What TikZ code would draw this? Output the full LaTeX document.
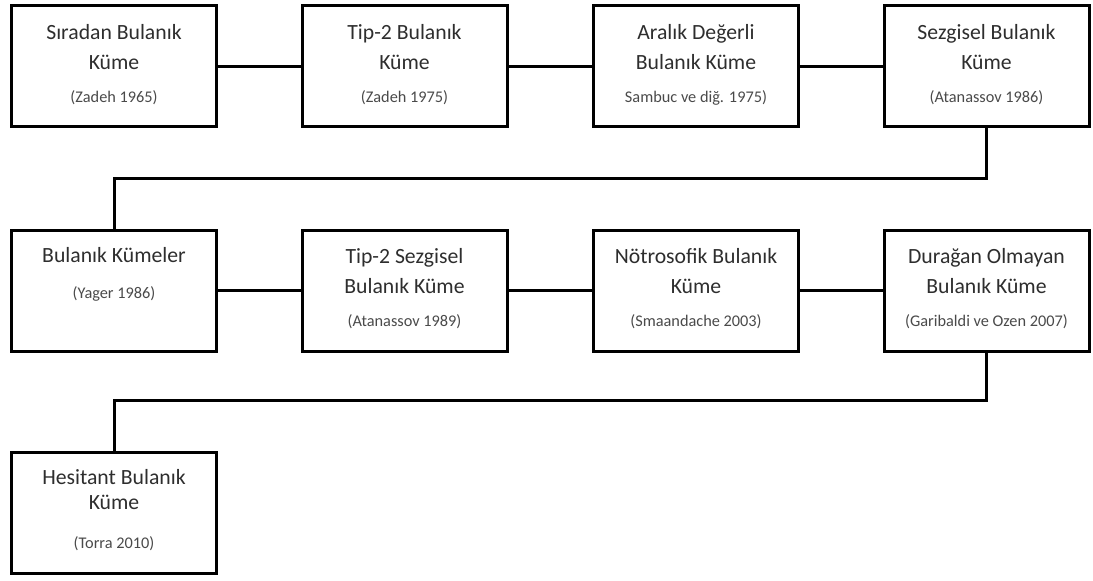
\documentclass[tikz,border=0pt]{standalone}
\usepackage{fontspec}
\setmainfont{Carlito}
\definecolor{titlec}{HTML}{2E2E2E}
\definecolor{citec}{HTML}{4A4A4A}
\tikzset{
  box/.style={draw=black, line width=3pt, minimum width=205pt, minimum height=121pt, inner sep=0pt, fill=white},
  ttl/.style={anchor=base, text=titlec, font=\fontsize{21.7}{21.7}\selectfont, inner sep=0pt},
  cite/.style={anchor=base, text=citec, font=\fontsize{16.3}{16.3}\selectfont, inner sep=0pt},
  conn/.style={draw=black, line width=3pt},
}
\begin{document}
\begin{tikzpicture}[x=1pt,y=-1pt]
\useasboundingbox (0,0) rectangle (1093,581);
% row 1
\node[box] (b1) at (114,66) {};
\node[box] (b2) at (404.5,66) {};
\node[box] (b3) at (696,66) {};
\node[box] (b4) at (986.5,66) {};
% row 2
\node[box] (b5) at (114,290.5) {};
\node[box] (b6) at (404.5,290.5) {};
\node[box] (b7) at (696,290.5) {};
\node[box] (b8) at (986.5,290.5) {};
% row 3
\node[box] (b9) at (114,512.5) {};
% texts
\node[ttl] (t1a) at ([yshift=-35pt]b1.north) {Sıradan Bulanık};
\node[ttl] (t1b) at ([yshift=-65pt]b1.north) {Küme};
\node[cite] (c1) at ([yshift=-98pt]b1.north) {(Zadeh 1965)};
\node[ttl] (t2a) at ([yshift=-35pt]b2.north) {Tip-2 Bulanık};
\node[ttl] (t2b) at ([yshift=-65pt]b2.north) {Küme};
\node[cite] (c2) at ([yshift=-98pt]b2.north) {(Zadeh 1975)};
\node[ttl] (t3a) at ([yshift=-35pt]b3.north) {Aralık Değerli};
\node[ttl] (t3b) at ([yshift=-65pt]b3.north) {Bulanık Küme};
\node[cite] (c3) at ([yshift=-98pt]b3.north) {Sambuc ve diğ. 1975)};
\node[ttl] (t4a) at ([yshift=-35pt]b4.north) {Sezgisel Bulanık};
\node[ttl] (t4b) at ([yshift=-65pt]b4.north) {Küme};
\node[cite] (c4) at ([yshift=-98pt]b4.north) {(Atanassov 1986)};
\node[ttl] (t5a) at ([yshift=-34pt]b5.north) {Bulanık Kümeler};
\node[cite] (c5) at ([yshift=-70pt]b5.north) {(Yager 1986)};
\node[ttl] (t6a) at ([yshift=-35pt]b6.north) {Tip-2 Sezgisel};
\node[ttl] (t6b) at ([yshift=-65pt]b6.north) {Bulanık Küme};
\node[cite] (c6) at ([yshift=-98pt]b6.north) {(Atanassov 1989)};
\node[ttl] (t7a) at ([yshift=-35pt]b7.north) {Nötrosofik Bulanık};
\node[ttl] (t7b) at ([yshift=-65pt]b7.north) {Küme};
\node[cite] (c7) at ([yshift=-98pt]b7.north) {(Smaandache 2003)};
\node[ttl] (t8a) at ([yshift=-35pt]b8.north) {Durağan Olmayan};
\node[ttl] (t8b) at ([yshift=-65pt]b8.north) {Bulanık Küme};
\node[cite] (c8) at ([yshift=-98pt]b8.north) {(Garibaldi ve Ozen 2007)};
\node[ttl] (t9a) at ([yshift=-34pt]b9.north) {Hesitant Bulanık};
\node[ttl] (t9b) at ([yshift=-59pt]b9.north) {Küme};
\node[cite] (c9) at ([yshift=-98pt]b9.north) {(Torra 2010)};
% connectors
\coordinate (r1) at (0,178);
\coordinate (r2) at (0,400);
\draw[conn] (b1.east) -- (b2.west);
\draw[conn] (b2.east) -- (b3.west);
\draw[conn] (b3.east) -- (b4.west);
\draw[conn] (b4.south) -- (b4.south |- r1) -- (b5.north |- r1) -- (b5.north);
\draw[conn] (b5.east) -- (b6.west);
\draw[conn] (b6.east) -- (b7.west);
\draw[conn] (b7.east) -- (b8.west);
\draw[conn] (b8.south) -- (b8.south |- r2) -- (b9.north |- r2) -- (b9.north);
\end{tikzpicture}
\end{document}
